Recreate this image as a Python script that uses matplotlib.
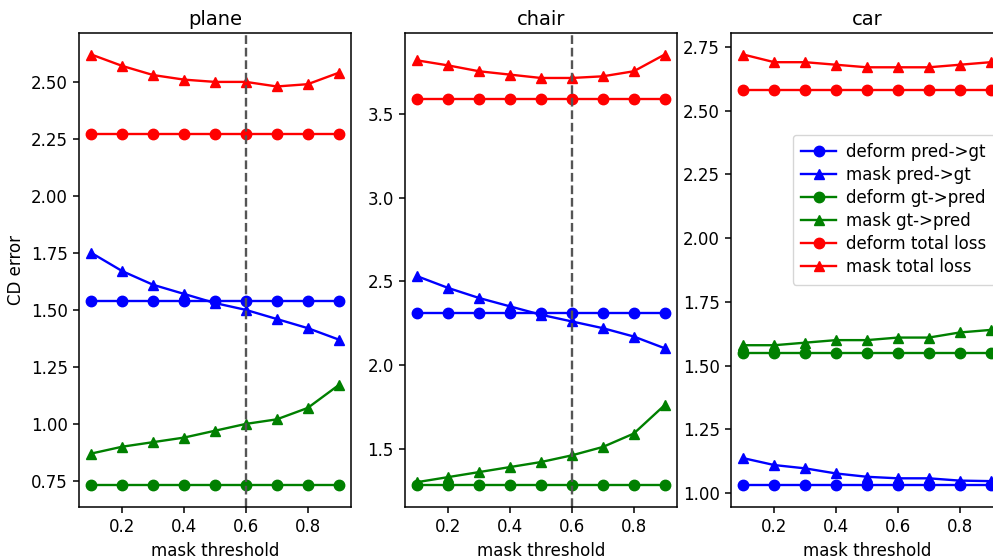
import matplotlib
matplotlib.use("Agg")
import matplotlib.pyplot as plt
import numpy as np

thresholds = [0.1, 0.2, 0.3, 0.4, 0.5, 0.6, 0.7, 0.8, 0.9]
titles = ["plane", "chair", "car"]

plane_deform_p2g = [1.54] * 9
plane_mask_p2g = [1.75, 1.67, 1.61, 1.57, 1.53, 1.50, 1.46, 1.42, 1.37]
plane_deform_g2p = [0.73] * 9
plane_mask_g2p = [0.87, 0.90, 0.92, 0.94, 0.97, 1.00, 1.02, 1.07, 1.17]
plane_deform_total = [2.27] * 9
plane_mask_total = [2.62, 2.57, 2.53, 2.51, 2.50, 2.50, 2.48, 2.49, 2.54]

chair_deform_p2g = [2.31] * 9
chair_mask_p2g = [2.53, 2.46, 2.40, 2.35, 2.30, 2.26, 2.22, 2.17, 2.10]
chair_deform_g2p = [1.28] * 9
chair_mask_g2p = [1.30, 1.33, 1.36, 1.39, 1.42, 1.46, 1.51, 1.59, 1.76]
chair_deform_total = [3.59] * 9
chair_mask_total = [3.82, 3.79, 3.755, 3.735, 3.715, 3.715, 3.725, 3.755, 3.855]

car_deform_p2g = [1.03] * 9
car_mask_p2g = [1.137, 1.11, 1.097, 1.077, 1.064, 1.058, 1.058, 1.049, 1.047]
car_deform_g2p = [1.55] * 9
car_mask_g2p = [1.58, 1.58, 1.59, 1.60, 1.60, 1.61, 1.61, 1.63, 1.64]
car_deform_total = [2.58] * 9
car_mask_total = [2.72, 2.69, 2.69, 2.68, 2.67, 2.67, 2.67, 2.68, 2.69]

labels = ["deform pred->gt", "mask pred->gt", "deform gt->pred",
          "mask gt->pred", "deform total loss", "mask total loss"]
styles = [("b", "o"), ("b", "^"), ("g", "o"), ("g", "^"), ("r", "o"), ("r", "^")]

data = [
    [plane_deform_p2g, plane_mask_p2g, plane_deform_g2p, plane_mask_g2p, plane_deform_total, plane_mask_total],
    [chair_deform_p2g, chair_mask_p2g, chair_deform_g2p, chair_mask_g2p, chair_deform_total, chair_mask_total],
    [car_deform_p2g, car_mask_p2g, car_deform_g2p, car_mask_g2p, car_deform_total, car_mask_total],
]
vlines = [0.6, 0.6, None]

W, H = 993, 559
fig = plt.figure(figsize=(W / 100, H / 100), dpi=100)
lefts = [79, 405, 731]
aw, top, bottom = 272, 33, 507
axes = []
for i, l in enumerate(lefts):
    ax = fig.add_axes([l / W, 1 - bottom / H, aw / W, (bottom - top) / H])
    axes.append(ax)
    for series, (c, m), lab in zip(data[i], styles, labels):
        ax.plot(thresholds, series, color=c, marker=m, markersize=7.5, linewidth=1.7, label=lab)
    if vlines[i] is not None:
        ax.axvline(vlines[i], color="#555555", linestyle="--", linewidth=1.7)
    ax.set_title(titles[i], fontsize=14)
    ax.set_xlabel("mask threshold", fontsize=12)
    ax.set_xticks([0.2, 0.4, 0.6, 0.8])
    ax.tick_params(labelsize=12, width=1.1, length=4.5)
    for s in ax.spines.values():
        s.set_linewidth(1.1)

axes[0].set_ylabel("CD error", fontsize=12)
axes[0].set_yticks([0.75, 1.0, 1.25, 1.5, 1.75, 2.0, 2.25, 2.5])
axes[1].set_yticks([1.5, 2.0, 2.5, 3.0, 3.5])
axes[2].set_yticks([1.0, 1.25, 1.5, 1.75, 2.0, 2.25, 2.5, 2.75])
for ax in axes:
    ax.yaxis.set_major_formatter(matplotlib.ticker.FormatStrFormatter("%.2f"))
axes[1].yaxis.set_major_formatter(matplotlib.ticker.FormatStrFormatter("%.1f"))

axes[2].legend(loc="upper left", bbox_to_anchor=(0.228, 0.785), borderaxespad=0, fontsize=12,
               labelspacing=0.3, handlelength=2.1, handletextpad=0.6, borderpad=0.5)

fig.savefig("out.png", dpi=100)
